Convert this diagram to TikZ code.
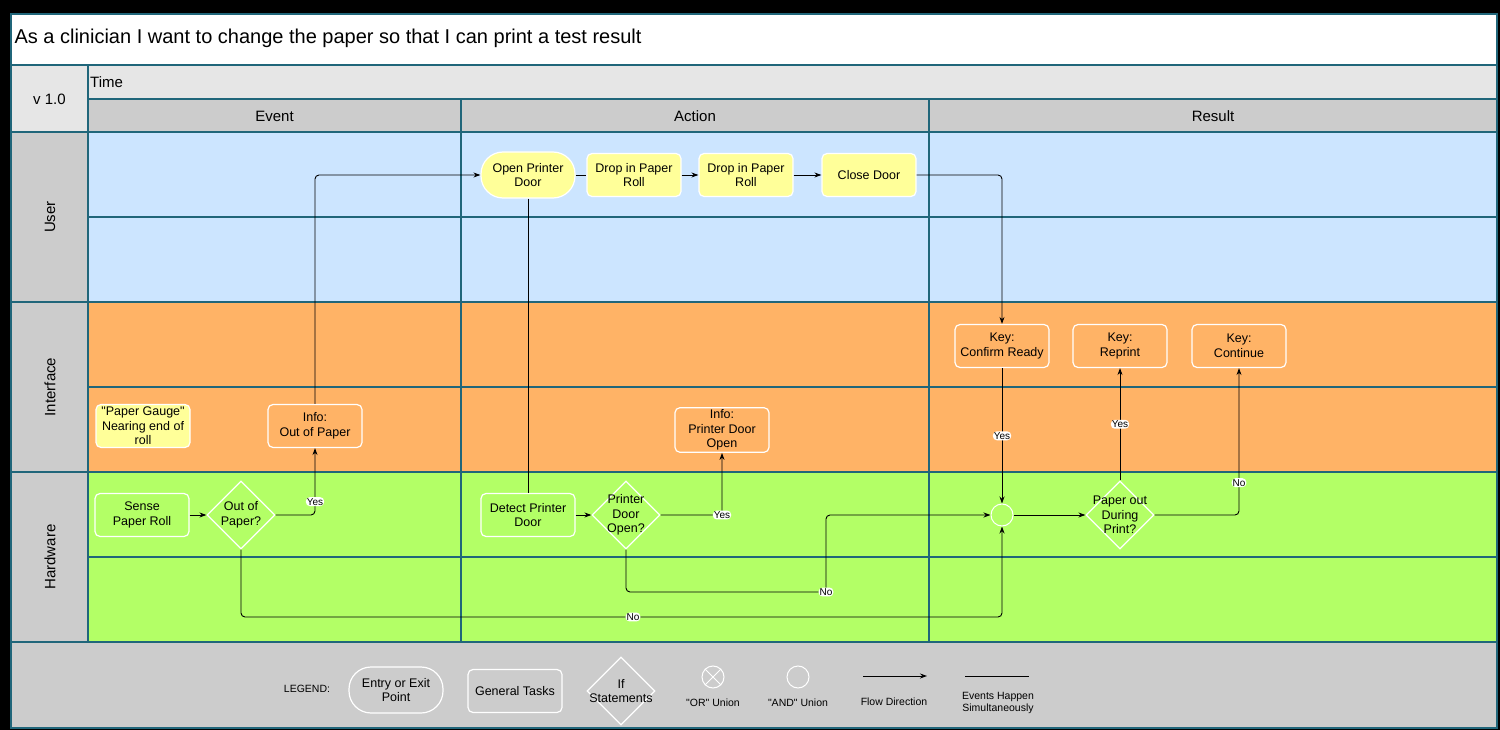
\documentclass[tikz,border=0pt]{standalone}
\usepackage{fontspec}
\setmainfont{Liberation Sans}
\usetikzlibrary{shapes.geometric, arrows.meta, positioning}

\definecolor{laneline}{RGB}{32,102,122}
\definecolor{userblue}{HTML}{CCE5FF}
\definecolor{ifaceorange}{HTML}{FFB366}
\definecolor{hwgreen}{HTML}{B3FF66}
\definecolor{taskyellow}{HTML}{FFFF99}
\definecolor{headgrey}{HTML}{CCCCCC}
\definecolor{lightgrey}{HTML}{E6E6E6}

\begin{document}
\begin{tikzpicture}[x=1pt, y=-1pt, >={Stealth[length=7pt, width=5pt]}]

  % --- GENERAL SETTINGS ---
  \def\nodefont{\fontsize{12.5}{14.5}\selectfont}
  \def\headfont{\fontsize{15}{17}\selectfont}
  \def\smallfont{\fontsize{10.5}{12}\selectfont}
  \def\q{\textquotedbl}

  % Styles for the flow shapes
  \tikzstyle{task}=[rectangle, draw=white, line width=1.2pt, rounded corners=5pt, minimum width=94pt, minimum height=43pt, align=center, font=\nodefont, inner sep=2pt]
  \tikzstyle{entry}=[task, rounded corners=22pt, minimum height=46pt]
  \tikzstyle{ifbox}=[diamond, draw=white, line width=1.2pt, minimum width=68pt, minimum height=68pt, inner sep=0pt]
  \tikzstyle{iftext}=[align=center, font=\nodefont, inner sep=0pt]
  \tikzstyle{union}=[circle, draw=white, line width=1pt, minimum size=22pt, inner sep=0pt]
  \tikzstyle{lbl}=[fill=white, font=\fontsize{10}{11}\selectfont, inner sep=1pt]
  \tikzstyle{flow}=[->, line width=0.9pt, rounded corners=4pt]
  \tikzstyle{simline}=[line width=0.9pt]
  \tikzstyle{grid}=[laneline, line width=2pt]

  % --- BACKGROUND ---
  \fill[black] (0,0) rectangle (1500,730);
  \fill[white] (11,14) rectangle (1497,65);
  \fill[lightgrey] (11,65) rectangle (1497,99);
  \fill[headgrey] (88,99) rectangle (1497,132);
  \fill[headgrey] (11,132) rectangle (88,642);
  \fill[lightgrey] (11,65) rectangle (88,132);
  \fill[userblue] (88,132) rectangle (1497,302);
  \fill[ifaceorange] (88,302) rectangle (1497,472);
  \fill[hwgreen] (88,472) rectangle (1497,642);
  \fill[headgrey] (11,642) rectangle (1497,728);

  % --- GRID LINES ---
  \draw[grid] (11,14) rectangle (1497,728);
  \draw[grid] (11,65) -- (1497,65);
  \draw[grid] (88,99) -- (1497,99);
  \draw[grid] (11,132) -- (1497,132);
  \draw[grid] (88,65) -- (88,642);
  \foreach \y in {217,387,557} { \draw[grid] (88,\y) -- (1497,\y); }
  \foreach \y in {302,472,642} { \draw[grid] (11,\y) -- (1497,\y); }
  \foreach \x in {461,929} { \draw[grid] (\x,99) -- (\x,642); }

  % --- HEADERS ---
  \node[anchor=west, font=\fontsize{20}{24}\selectfont] (title) at (11,38) {As a clinician I want to change the paper so that I can print a test result};
  \node[anchor=west, font=\headfont, inner sep=1pt] (time) at (89,82) {Time};
  \node[font=\headfont] (ver) at (49.5,99) {v 1.0};
  \node[font=\headfont] (hEvent) at (274.5,116) {Event};
  \node[font=\headfont] (hAction) at (695,116) {Action};
  \node[font=\headfont] (hResult) at (1213,116) {Result};

  % Lane names
  \foreach \lane/\y in {User/217, Interface/387, Hardware/557} {
    \node[rotate=90, font=\headfont] (ln\lane) at (50,\y) {\lane};
  }

  % --- USER LANE ---
  \node[entry, fill=taskyellow] (openDoor) at (528,175) {Open Printer\\Door};
  \node[task, fill=taskyellow] (drop1) at (634,175) {Drop in Paper\\Roll};
  \node[task, fill=taskyellow] (drop2) at (746,175) {Drop in Paper\\Roll};
  \node[task, fill=taskyellow] (closeDoor) at (869,175) {Close Door};

  % --- INTERFACE LANE ---
  \node[task, fill=taskyellow] (gauge) at (143,426) {\q Paper Gauge\q\\Nearing end of\\roll};
  \node[task, fill=ifaceorange] (infoPaper) at (315,426) {Info:\\Out of Paper};
  \node[task, fill=ifaceorange] (infoDoor) at (722,430) {Info:\\Printer Door\\Open};
  \node[task, fill=ifaceorange] (keyConfirm) at (1002,346) {Key:\\Confirm Ready};
  \node[task, fill=ifaceorange] (keyReprint) at (1120,346) {Key:\\Reprint};
  \node[task, fill=ifaceorange] (keyContinue) at (1239,346) {Key:\\Continue};

  % --- HARDWARE LANE ---
  \node[task, fill=hwgreen] (sense) at (142,515) {Sense\\Paper Roll};
  \node[ifbox] (outPaper) at (241,515) {};
  \node[iftext] (outPaperT) at (outPaper) {Out of\\Paper?};
  \node[task, fill=hwgreen] (detect) at (528,515) {Detect Printer\\Door};
  \node[ifbox] (doorOpen) at (626,515) {};
  \node[iftext] (doorOpenT) at (doorOpen) {Printer\\Door\\Open?};
  \node[union] (andU) at (1002,515) {};
  \node[ifbox] (paperOut) at (1120,515) {};
  \node[iftext] (paperOutT) at (paperOut) {Paper out\\During\\Print?};

  % Bend points of the "No" paths
  \coordinate (noPaper) at (633,617);
  \coordinate (noDoor) at (826,592);

  % --- CONNECTORS ---
  \draw[flow] (infoPaper.north) |- (openDoor.west);
  \draw[simline] (openDoor.east) -- (drop1.west);
  \draw[flow] (drop1) -- (drop2);
  \draw[flow] (drop2) -- (closeDoor);
  \draw[flow] (closeDoor.east) -| (keyConfirm.north);
  \draw[simline] (openDoor.south) -- (detect.north);

  \draw[flow] (sense) -- (outPaper);
  \draw[flow] (outPaper.east) -| node[lbl, pos=0.6] {Yes} (infoPaper.south);
  \draw[flow] (outPaper.south) |- (noPaper) node[lbl] {No} -| (andU.south);

  \draw[flow] (detect) -- (doorOpen);
  \draw[flow] (doorOpen.east) -| node[lbl, pos=0.5] {Yes} (infoDoor.south);
  \draw[flow] (doorOpen.south) |- (noDoor) node[lbl] {No} |- (andU.west);

  \draw[flow] (keyConfirm.south) -- node[lbl] {Yes} (andU.north);
  \draw[flow] (andU.east) -- (paperOut.west);
  \draw[flow] (paperOut.north) -- node[lbl] {Yes} (keyReprint.south);
  \draw[flow] (paperOut.east) -| node[lbl, pos=0.61] {No} (keyContinue.south);

  % --- LEGEND ---
  \node[font=\smallfont] (legend) at (307,689) {LEGEND:};
  \node[entry, font=\fontsize{12.5}{14}\selectfont] (lgEntry) at (396,690) {Entry or Exit\\Point};
  \node[task, font=\fontsize{12.5}{14}\selectfont] (lgTask) at (515,691) {General Tasks};
  \node[ifbox] (lgIf) at (621,691) {};
  \node[iftext, font=\fontsize{12.5}{14}\selectfont] (lgIfT) at (lgIf) {If\\Statements};
  \node[union] (lgOr) at (713,677) {};
  \draw[white, line width=1pt] (lgOr.north west) -- (lgOr.south east) (lgOr.north east) -- (lgOr.south west);
  \node[font=\smallfont] (lgOrT) at (713,703) {\q OR\q{} Union};
  \node[union] (lgAnd) at (798,677) {};
  \node[font=\smallfont] (lgAndT) at (798,703) {\q AND\q{} Union};
  \coordinate (lgFlowA) at (863,676);
  \coordinate (lgFlowB) at (927,676);
  \draw[flow] (lgFlowA) -- (lgFlowB);
  \node[font=\smallfont] (lgFlowT) at (894,702) {Flow Direction};
  \coordinate (lgSimA) at (965,676);
  \coordinate (lgSimB) at (1029,676);
  \draw[simline] (lgSimA) -- (lgSimB);
  \node[font=\smallfont, align=center] (lgSimT) at (998,703) {Events Happen\\Simultaneously};

\end{tikzpicture}
\end{document}
